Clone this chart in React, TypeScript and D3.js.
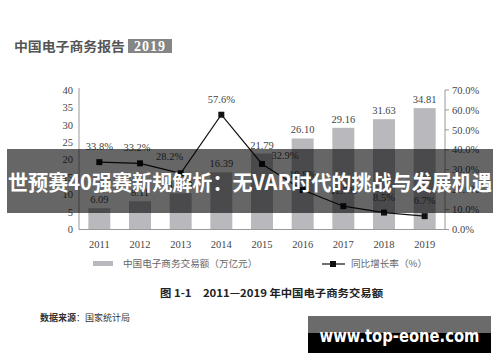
import React from 'react'
import * as d3 from 'd3'

// data
const years = ['2011', '2012', '2013', '2014', '2015', '2016', '2017', '2018', '2019']
const volume = [6.09, 8.11, 10.4, 16.39, 21.79, 26.1, 29.16, 31.63, 34.81]
const growth = [33.8, 33.2, 28.2, 57.6, 32.9, 19.8, 11.7, 8.5, 6.7]
const leftTicks = [0, 5, 10, 15, 20, 25, 30, 35, 40]
const rightTicks = [0, 10, 20, 30, 40, 50, 60, 70]

const serif = '"Liberation Serif", "DejaVu Serif", serif'
const cjk = '"Noto Sans CJK SC", sans-serif'

const App = () => {
    const width = 500,
        height = 362

    const left = 79,
        right = 445,
        bottom = 229.5,
        top = 90

    const x = d3.scaleBand<string>()
        .domain(years)
        .range([left, right])
        .paddingInner(0.46)
        .paddingOuter(0.23)

    const yL = d3.scaleLinear().domain([0, 40]).range([bottom, top])
    const yR = d3.scaleLinear().domain([0, 70]).range([bottom, top])

    const cx = (y: string) => (x(y) as number) + x.bandwidth() / 2

    const line = d3.line<number>()
        .x((_, i) => cx(years[i]))
        .y(d => yR(d))

    // nudges for the growth labels so they do not sit on the line
    const pctOffset: Record<string, [number, number]> = {
        '2012': [-3, -12],
        '2013': [-11, -13],
        '2015': [23, -5],
    }

    return (
        <svg width={width} height={height} style={{ position: 'absolute', left: 0, top: 0, background: '#fff' }}>
            <rect width={width} height={height} fill="#fff" />

            {/* header */}
            <text x={14} y={51} fontFamily={cjk} fontWeight="bold" fontSize={13} fill="#555"
                textLength={111} lengthAdjust="spacingAndGlyphs">中国电子商务报告</text>
            <rect x={128} y={39} width={44} height={14} fill="#858585" />
            <text x={150} y={51} textAnchor="middle" fontFamily={serif} fontWeight="bold" fontSize={14} fill="#fff"
                letterSpacing={1}>2019</text>

            {/* bars */}
            {volume.map((v, i) => (
                <rect key={'b' + i} x={x(years[i])} y={yL(v)} width={x.bandwidth()} height={bottom - yL(v)} fill="#b9b9bd" />
            ))}
            {volume.map((v, i) => (
                <text key={'bl' + i} x={cx(years[i])} y={yL(v) - 5} textAnchor="middle" fontFamily={serif} fontSize={10.5} fill="#444">
                    {v.toFixed(2)}
                </text>
            ))}

            {/* axes */}
            <line x1={left} x2={left} y1={top - 2} y2={bottom} stroke="#999" strokeWidth={1} />
            <line x1={right} x2={right} y1={top} y2={bottom} stroke="#999" strokeWidth={1} />
            <line x1={left} x2={right} y1={bottom} y2={bottom} stroke="#999" strokeWidth={1} />
            {leftTicks.map(t => (
                <text key={'l' + t} x={73} y={yL(t)} dy="0.35em" textAnchor="end" fontFamily={serif} fontSize={10.5} fill="#444">{t}</text>
            ))}
            {rightTicks.map(t => (
                <g key={'r' + t}>
                    <line x1={right} x2={right + 4} y1={yR(t)} y2={yR(t)} stroke="#999" />
                    <text x={452} y={yR(t)} dy="0.35em" fontFamily={serif} fontSize={10.5} fill="#444">{t.toFixed(1)}%</text>
                </g>
            ))}
            {years.map(y => (
                <text key={'x' + y} x={cx(y)} y={248} textAnchor="middle" fontFamily={serif} fontSize={10.5} fill="#444">{y}</text>
            ))}

            {/* growth line */}
            <path d={line(growth) as string} fill="none" stroke="#111" strokeWidth={1.2} />
            {growth.map((g, i) => (
                <rect key={'p' + i} x={cx(years[i]) - 3} y={yR(g) - 3} width={6} height={6} fill="#111" />
            ))}
            {growth.map((g, i) => {
                const off = pctOffset[years[i]] || [0, -12]
                return (
                    <text key={'pl' + i} x={cx(years[i]) + off[0]} y={yR(g) + off[1]} textAnchor="middle"
                        fontFamily={serif} fontSize={10.5} fill="#444">{g.toFixed(1)}%</text>
                )
            })}

            {/* legend */}
            <rect x={93} y={261} width={20} height={5} fill="#b9b9bd" />
            <text x={123} y={267} fontFamily={cjk} fontSize={9.6} fill="#666">中国电子商务交易额（万亿元）</text>
            <line x1={322} x2={345} y1={264} y2={264} stroke="#111" strokeWidth={1.2} />
            <rect x={330} y={261} width={6} height={6} fill="#111" />
            <text x={351} y={267} fontFamily={cjk} fontSize={9.6} fill="#666">同比增长率（%）</text>

            {/* caption */}
            <text x={160} y={297} fontFamily={cjk} fontWeight="bold" fontSize={10.5} fill="#222"
                textLength={223} lengthAdjust="spacingAndGlyphs">图 1-1　2011—2019 年中国电子商务交易额</text>
            <text x={40} y={321} fontFamily={cjk} fontSize={9} fill="#333">
                <tspan fontWeight="bold">数据来源</tspan>：国家统计局
            </text>

            {/* overlay banner */}
            <rect x={7} y={149} width={486} height={64} fill="#000" opacity={0.6} />
            <text x={250} y={190} textAnchor="middle" fontFamily={cjk} fontWeight="bold" fontSize={21} fill="#fff"
                textLength={484} lengthAdjust="spacingAndGlyphs">世预赛40强赛新规解析：无VAR时代的挑战与发展机遇</text>

            {/* watermark */}
            <rect x={308} y={316} width={183} height={37} fill="#000" />
            <rect x={308} y={316} width={183} height={17} fill="#6b6b6b" />
            <text x={399.5} y={342} textAnchor="middle" fontFamily={'"DejaVu Sans", sans-serif'} fontWeight="bold" fontSize={17} fill="#fff"
                textLength={160} lengthAdjust="spacingAndGlyphs">www.top-eone.com</text>
        </svg>
    )
}

export default App
